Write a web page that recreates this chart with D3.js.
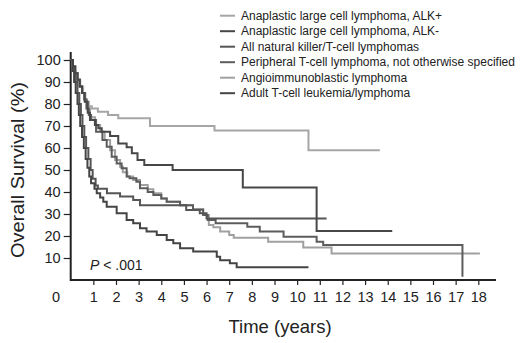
<!DOCTYPE html>
<html>
<head>
<meta charset="utf-8">
<script src="https://cdn.jsdelivr.net/npm/d3@7"></script>
<style>
  html, body { margin: 0; padding: 0; background: #fff; }
  svg { display: block; }
  text { font-family: "Liberation Sans", Arial, sans-serif; fill: #222; }
</style>
</head>
<body>
<div id="chart"></div>
<script>
// ---------- data ----------
const seriesNames = [
  "Anaplastic large cell lymphoma, ALK+",
  "Anaplastic large cell lymphoma, ALK-",
  "All natural killer/T-cell lymphomas",
  "Peripheral T-cell lymphoma, not otherwise specified",
  "Angioimmunoblastic lymphoma",
  "Adult T-cell leukemia/lymphoma"
];
const seriesColors = ["#a6a6a6", "#474747", "#555555", "#5c5c5c", "#a0a0a0", "#444444"];

const alkPos = [[0,100],[0.08,97],[0.18,94],[0.3,91],[0.42,88],[0.55,85],[0.65,81],[0.8,79],[0.93,78],[1.2,76.5],[1.65,75],[2.1,73.5],[3.5,70],[6.35,68],[10.5,59],[13.65,59]];
const alkNeg = [[0,100],[0.1,97],[0.2,94],[0.3,91],[0.4,88],[0.5,85],[0.62,81],[0.75,76],[0.85,72.7],[1.07,70.5],[1.22,69],[1.37,67.4],[1.74,65.5],[2.1,62],[2.47,60.3],[2.7,57.6],[2.95,54.5],[3.25,52.3],[4.5,50],[7.6,42],[10.86,22.3],[14.2,22.3]];
const nkT = [[0,100],[0.1,95],[0.2,90],[0.3,85],[0.38,80],[0.45,75],[0.52,70],[0.6,65],[0.68,60],[0.78,55],[0.88,50],[0.97,46],[1.1,43],[1.2,41.5],[1.6,39.4],[2.18,37.9],[2.76,36.4],[3.06,34],[5.1,31.8],[5.7,30.3],[6.0,28],[11.3,28]];
const ptcl = [[0,100],[0.1,97],[0.2,94],[0.3,91],[0.4,88],[0.5,85],[0.6,82],[0.7,78],[0.8,75],[0.9,72.7],[1.12,67.4],[1.4,63.6],[1.59,60.6],[1.81,56],[2.03,53],[2.25,50.8],[2.47,47],[2.6,46.2],[2.9,44.7],[3.06,41.7],[3.4,40],[3.65,38.6],[4.0,37],[4.24,35.6],[4.83,34],[5.4,32],[5.85,29.5],[6.05,27.3],[6.4,25.8],[7.8,24.2],[8.35,22],[9.4,19.7],[10.86,17.4],[11.15,15.9],[17.3,1.5]];
const aitl = [[0,100],[0.1,97],[0.2,94],[0.3,91],[0.4,88],[0.5,85],[0.6,82],[0.7,78],[0.85,74],[1.07,70.5],[1.3,67.4],[1.5,63.6],[1.74,59],[1.96,54.5],[2.18,51.5],[2.3,49],[2.5,47],[2.76,45.5],[3.06,43.2],[3.4,41.2],[3.65,39.4],[4.0,37],[4.24,35.6],[4.83,34],[5.4,32],[5.85,29.5],[6.1,25],[6.3,24],[6.6,22],[7.0,20.5],[7.2,19.2],[8.72,17.4],[10.27,14.8],[11.52,12.1],[18.07,12.1]];
const atll = [[0,100],[0.08,95],[0.15,90],[0.22,85],[0.3,80],[0.36,75],[0.42,70],[0.5,65],[0.58,60],[0.66,55],[0.74,51],[0.82,47],[0.9,44],[1.05,41.5],[1.15,39.4],[1.3,37.5],[1.44,35.6],[1.59,33.3],[2.03,30.3],[2.47,27.3],[2.76,25.8],[3.06,23.5],[3.35,22],[3.8,20.5],[4.24,18.2],[4.53,16.7],[4.83,14.4],[5.41,12.9],[6.45,10.6],[6.6,9],[7.03,7.6],[7.33,5.8],[10.5,5.8]];

const seriesData = [alkPos, alkNeg, nkT, ptcl, aitl, atll];
const drawOrder = [0, 4, 3, 2, 1, 5];

const xTicks = [1,2,3,4,5,6,7,8,9,10,11,12,13,14,15,16,17,18];
const yTicks = [10,20,30,40,50,60,70,80,90,100];
const xTitle = "Time (years)";
const yTitle = "Overall Survival (%)";
const pLabel = ["P", " < .001"];

// ---------- chart ----------
const W = 520, H = 343;
const svg = d3.select("#chart").append("svg").attr("width", W).attr("height", H);

const x = d3.scaleLinear().domain([0, 18]).range([70.7, 478.3]);
const y = d3.scaleLinear().domain([0, 100]).range([280, 60]);

// axes lines
svg.append("line").attr("x1", x(0)).attr("x2", 496).attr("y1", y(0)).attr("y2", y(0))
  .attr("stroke", "#222").attr("stroke-width", 2);
svg.append("line").attr("x1", x(0)).attr("x2", x(0)).attr("y1", 52).attr("y2", y(0) + 1)
  .attr("stroke", "#222").attr("stroke-width", 2);

const xAxis = svg.append("g").attr("transform", `translate(0,${y(0)})`)
  .call(d3.axisBottom(x).tickValues(xTicks).tickSize(5).tickPadding(7).tickFormat(d3.format("d")));
xAxis.select(".domain").remove();
xAxis.selectAll(".tick line").attr("stroke", "#222").attr("stroke-width", 1.2);
xAxis.selectAll("text").attr("font-size", 14.5).attr("fill", "#222")
  .style("font-family", "'Liberation Sans', Arial, sans-serif");
svg.append("text").attr("x", 56).attr("y", 301.5).attr("text-anchor", "middle")
  .attr("font-size", 14.5).text("0");

const yAxis = svg.append("g").attr("transform", `translate(${x(0)},0)`)
  .call(d3.axisLeft(y).tickValues(yTicks).tickSize(7).tickPadding(3).tickFormat(d3.format("d")));
yAxis.select(".domain").remove();
yAxis.selectAll(".tick line").attr("stroke", "#222").attr("stroke-width", 1.2);
yAxis.selectAll("text").attr("font-size", 14.5).attr("fill", "#222")
  .style("font-family", "'Liberation Sans', Arial, sans-serif");

// curves
const line = d3.line().x(d => x(d[0])).y(d => y(d[1])).curve(d3.curveStepAfter);
drawOrder.forEach(i => {
  svg.append("path").datum(seriesData[i]).attr("d", line)
    .attr("fill", "none").attr("stroke", seriesColors[i]).attr("stroke-width", 2);
});

// P value
const pt = svg.append("text").attr("x", 90).attr("y", 270).attr("font-size", 14);
pt.append("tspan").attr("font-style", "italic").text(pLabel[0]);
pt.append("tspan").text(pLabel[1]);

// titles
svg.append("text").attr("x", 280).attr("y", 333).attr("text-anchor", "middle")
  .attr("font-size", 18.5).text(xTitle);
svg.append("text").attr("transform", "translate(24,170) rotate(-90)").attr("text-anchor", "middle")
  .attr("font-size", 19).attr("textLength", 176).attr("lengthAdjust", "spacingAndGlyphs").text(yTitle);

// legend
const legRows = [15.7, 31.2, 46.7, 62.2, 77.7, 93.2];
const leg = svg.append("g");
seriesNames.forEach((name, i) => {
  leg.append("line").attr("x1", 220).attr("x2", 235).attr("y1", legRows[i]).attr("y2", legRows[i])
    .attr("stroke", seriesColors[i]).attr("stroke-width", 2);
  leg.append("text").attr("x", 241).attr("y", legRows[i] + 4).attr("font-size", 12)
    .attr("fill", "#333").text(name);
});
</script>
</body>
</html>
